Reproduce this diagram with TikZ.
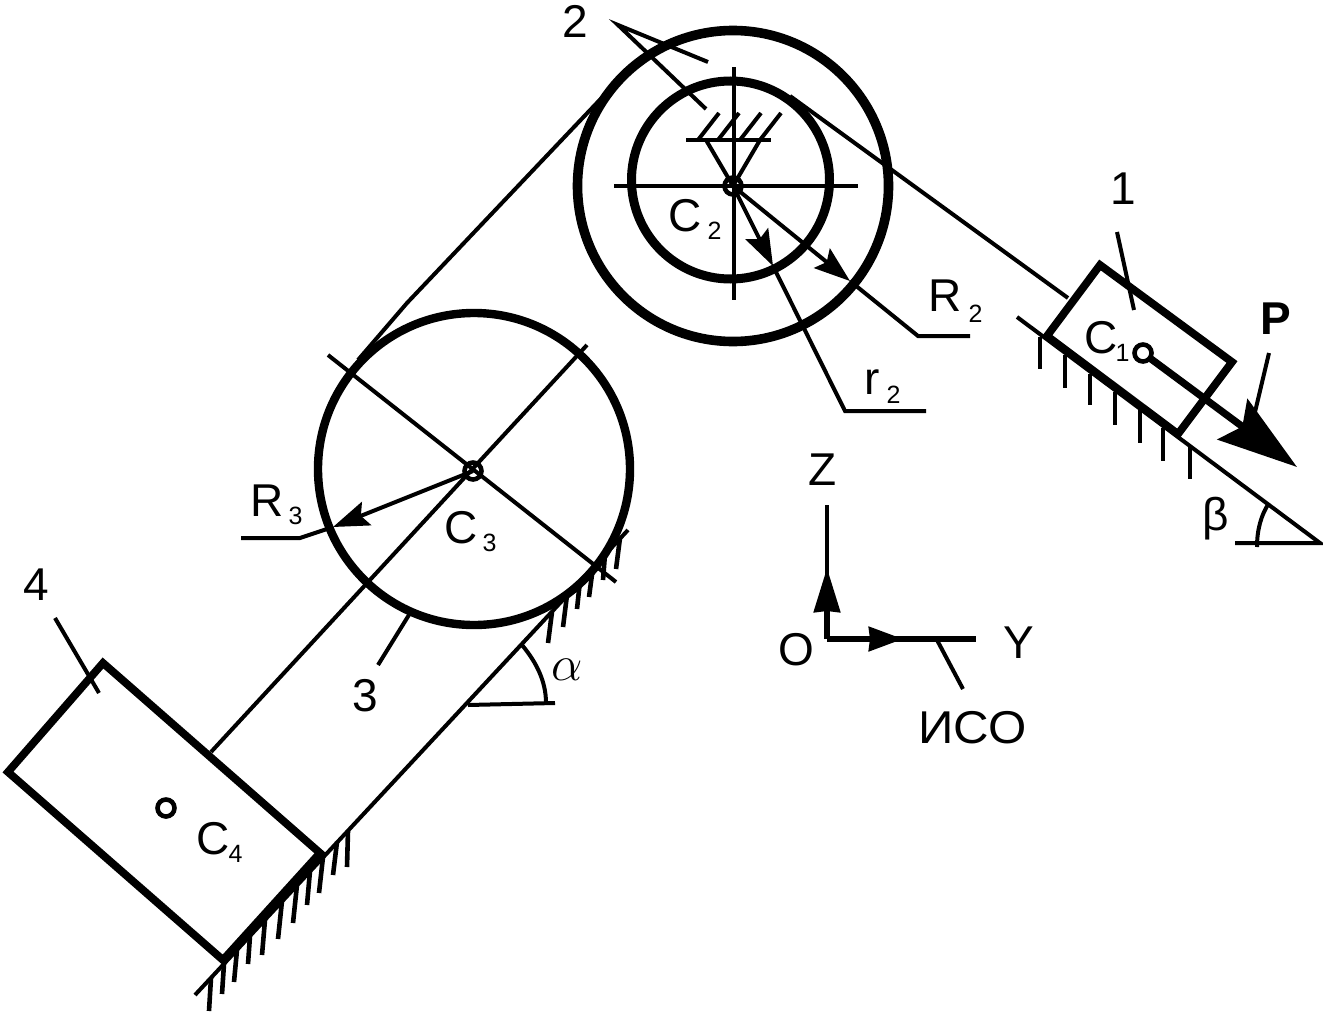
\documentclass[tikz,border=0pt]{standalone}
\usepackage{fontspec}
\setmainfont{Liberation Sans}
\usetikzlibrary{arrows.meta, positioning}

\newcommand{\lblsub}[3][4pt]{\raisebox{-#1}{\kern#2\fontsize{12.5}{12.5}\selectfont #3}}

\begin{document}
\begin{tikzpicture}[
    x=0.5pt, y=-0.5pt,
    lbl/.style={font=\fontsize{23}{23}\selectfont, inner sep=0pt, anchor=base west},
    wheel/.style={circle, draw, inner sep=0pt, line width=4.8pt},
    hub/.style={circle, draw, inner sep=0pt, line width=2.3pt, minimum size=8.5pt},
    body/.style={draw, line width=3.9pt, line join=miter},
    thinl/.style={draw, line width=2pt},
    hatchl/.style={draw, line width=2.3pt},
    axisl/.style={draw, line width=2.7pt},
    arr/.style={thinl, -{Stealth[length=18pt, width=12.5pt, inset=3pt]}},
    bigarr/.style={line width=3.6pt, -{Stealth[length=40pt, width=25pt, inset=6pt]}},
]
\useasboundingbox (0,0) rectangle (1323,1012);

% Wheels
\node[wheel, minimum size=155.5pt] (wheelR) at (733,186) {};
\node[wheel, line width=4.5pt, minimum size=99pt] (wheelr) at (730.5,180) {};
\node[wheel, line width=4.2pt, minimum size=156pt] (wheel3) at (474,469) {};

% Points
\coordinate (c2) at (733,186);
\coordinate (c3) at (473,471);
\coordinate (c1) at (1143,353);
\coordinate (c4) at (166,808);
\coordinate (oo) at (827,639);

% Cross of wheel 2
\draw[thinl] (614,186) -- (858,186);
\draw[thinl] (734,67) -- (734,300);

% Support of wheel 2
\coordinate (supl) at (706,140);
\coordinate (supr) at (760,140);
\draw[thinl] (686,140) -- (771,140);
\foreach \xa in {698,718,740,760}
    \draw[thinl] (\xa,140) -- (\xa+21,113);
\draw[thinl] (supl) -- (c2);
\draw[thinl] (supr) -- (c2);

% Ropes
\draw[thinl] (790,96) -- (1068,298);
\draw[thinl] (612,87) -- (407,303) -- (358,360);
\draw[thinl] (587,345) -- (211,752);
\draw[thinl] (328,355) -- (616,582);

% Radii
\coordinate (tipR2) at (850,281);
\coordinate (bendR2) at (918,336);
\coordinate (endR2) at (970,336);
\coordinate (tipr2) at (773,266);
\coordinate (bendr2) at (845,411);
\coordinate (endr2) at (926,411);
\coordinate (tipR3) at (333,527);
\coordinate (bendR3) at (300,538);
\coordinate (endR3) at (241,538);
\draw[arr] (c2) -- (tipR2);
\draw[thinl] (tipR2) -- (bendR2) -- (endR2);
\draw[arr] (c2) -- (tipr2);
\draw[thinl] (tipr2) -- (bendr2) -- (endr2);
\draw[arr] (c3) -- (tipR3);
\draw[thinl] (tipR3) -- (bendR3) -- (endR3);

% Right slope
\coordinate (slopeb) at (1320,543);
\draw[thinl] (1017,317) -- (slopeb) -- (1235,543);
\foreach \xa/\ya/\yb in {1040/337/369, 1065/355/388, 1090/374/405, 1115/392/425, 1140/410/443, 1163/428/461, 1190/446/479}
    \draw[hatchl] (\xa,\ya) -- (\xa,\yb);
\draw[thinl] (1257,547) .. controls (1257,530) and (1261,515) .. (1269,503);

% Left slope
\draw[thinl] (195,995) -- (628,530);
\foreach \xa/\ya/\xb/\yb in {348/831/347/867, 337/842/333/875, 323/857/319/893, 310/871/307/905, 297/885/293/923, 282/901/278/939, 265/920/262/955, 250/936/248/964, 237/950/234/982, 224/964/222/994, 211/978/209/1011, 552/612/548/643, 567/595/563/627, 580/581/577/609, 593/567/589/597, 605/554/603/580, 620/538/616/569}
    \draw[hatchl] (\xa,\ya) -- (\xb,\yb);
\draw[thinl] (522,645) .. controls (537,663) and (546,682) .. (546,703);
\draw[thinl] (468,705) -- (555,703);

% Blocks
\draw[body, fill=white] (1100,265) -- (1232,362) -- (1178,434) -- (1047,336) -- cycle;
\draw[body] (103,663) -- (8,772) -- (223,960) -- (320,853) -- cycle;

% Force
\coordinate (tipP) at (1297,467);
\draw[bigarr] (c1) -- (tipP);
\draw[thinl] (1269,353) -- (1255,412);

% Hubs
\node[hub] (hub2) at (c2) {};
\node[hub] (hub3) at (c3) {};
\node[hub, fill=white] (hub1) at (c1) {};
\node[hub] (hub4) at (c4) {};

% Axes
\coordinate (oz) at (827,505);
\coordinate (oy) at (976,639);
\coordinate (tipz) at (827,568);
\coordinate (tipy) at (903,639);
\coordinate (tailz) at (827,580);
\coordinate (taily) at (890,639);
\draw[thinl, line width=2.4pt] (tailz) -- (oz);
\draw[axisl] (taily) -- (oy);
\draw[axisl, -{Stealth[length=22pt, width=13pt, inset=0.5pt]}] (oo) -- (tipz);
\draw[axisl, -{Stealth[length=17pt, width=12pt, inset=0.5pt]}] (oo) -- (tipy);
\draw[thinl] (937,640) -- (963,689);

% Leaders
\draw[thinl] (708,62) -- (618,25) -- (706,109);
\draw[thinl] (1117,232) -- (1134,310);
\draw[thinl] (412,610) -- (378,665);
\draw[thinl] (55,618) -- (99,693);

% Labels
\node[lbl] (n1) at (1110,204) {1};
\node[lbl] (n2) at (562,37) {2};
\node[lbl] (n3) at (352,711) {3};
\node[lbl] (n4) at (23,600) {4};
\node[lbl] (lc1) at (1084,353) {C\lblsub{-1pt}{1}};
\node[lbl] (lc2) at (668,231) {C\lblsub{3pt}{2}};
\node[lbl] (lc3) at (444,543) {C\lblsub{2.5pt}{3}};
\node[lbl] (lc4) at (196,854) {C\lblsub{-0.5pt}{4}};
\node[lbl] (lR2) at (928,311) {R\lblsub[5.5pt]{3.5pt}{2}};
\node[lbl] (lr2) at (864,394) {r\lblsub[4.5pt]{3.5pt}{2}};
\node[lbl] (lR3) at (250,516) {R\lblsub{2.5pt}{3}};
\node[lbl, font=\fontsize{23}{23}\selectfont\bfseries] (lP) at (1260,334) {P};
\node[lbl] (lz) at (808,485) {Z};
\node[lbl] (lo) at (778,665) {O};
\node[lbl] (ly) at (1003,658) {Y};
\node[lbl] (liso) at (918,743) {\scalebox{1.07}[1]{ИСО}};
\node[lbl, font=\fontsize{25}{25}\selectfont] (lalpha) at (551,680) {$\alpha$};
\node[lbl] (lbeta) at (1202,530) {β};
\end{tikzpicture}
\end{document}
